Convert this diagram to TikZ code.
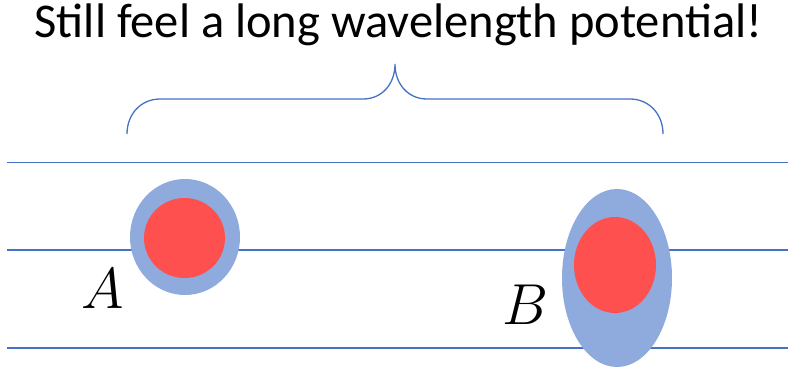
\RequirePackage{fix-cm}
\documentclass[tikz,border=0pt]{standalone}
\usepackage{fontspec}
\setmainfont{Carlito}
\usepackage{tikz}
\usetikzlibrary{
  calc,
  positioning
}
\definecolor{lineblue}{HTML}{4472C4}
\definecolor{shellblue}{HTML}{8FAADC}
\definecolor{corered}{HTML}{FF5050}
\tikzset{
  level/.style={
    draw=lineblue,
    line width=1.3pt
  },
  bracket/.style={
    draw=lineblue,
    line width=1.3pt
  },
  shell/.style={
    fill=shellblue
  },
  core/.style={
    fill=corered
  },
  headline/.style={
    font=\fontsize{48.7}{52}\selectfont,
    anchor=base,
    inner sep=0pt
  },
  letter/.style={
    font=\fontsize{58}{60}\selectfont,
    anchor=base,
    inner sep=0pt
  }
}
\begin{document}
\begin{tikzpicture}[x=1bp,y=-1bp]
  \useasboundingbox (0,0) rectangle (790,367);

  % Horizontal levels.
  \draw[level] (7,162.5) -- (788,162.5);
  \draw[level] (7,250) -- (788,250);
  \draw[level] (7,348) -- (788,348);

  % Curly bracket over both particles.
  \draw[bracket]
    (127,134) .. controls (127,114) and (141,99) .. (160,99)
    -- (363,99) .. controls (382,99) and (395,84) .. (395,64)
    .. controls (395,84) and (408,99) .. (427,99)
    -- (630,99) .. controls (649,99) and (663,114) .. (663,134);

  % Particle A.
  \fill[shell] (185,237) ellipse [x radius=55, y radius=58];
  \fill[core] (184.5,238) ellipse [x radius=40.5, y radius=40];

  % Particle B.
  \fill[shell] (617,278) ellipse [x radius=55, y radius=89];
  \fill[core] (615,265) ellipse [x radius=41, y radius=48];

  % Labels.
  \node[headline] (title) at (398.5,37) {Still feel a long wavelength potential!};
  \node[letter] (labelA) at (103,308) {$A$};
  \node[letter] (labelB) at (525,324) {$B$};
\end{tikzpicture}
\end{document}
